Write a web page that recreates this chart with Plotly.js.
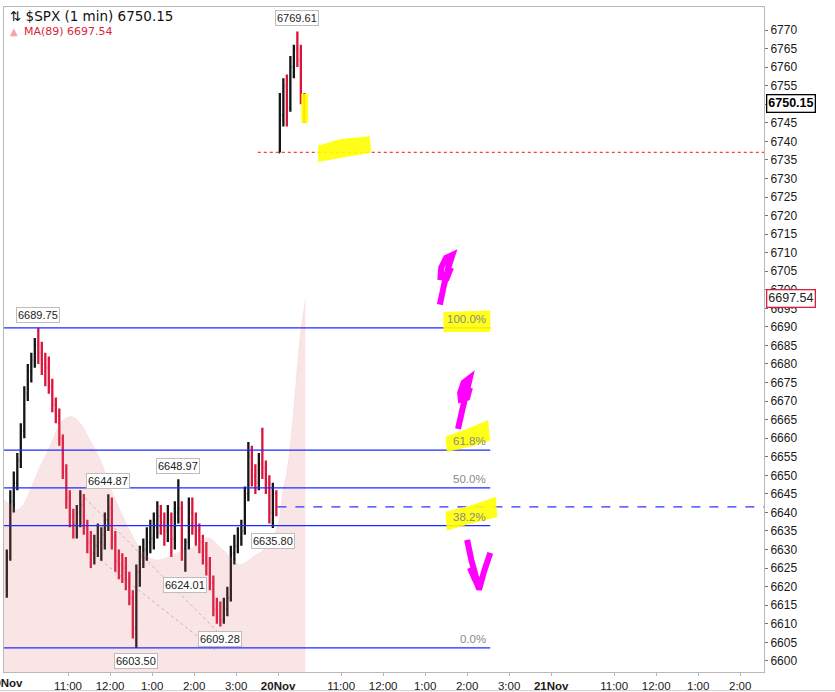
<!doctype html>
<html>
<head>
    <meta charset="utf-8">
    <title>$SPX (1 min)</title>
    <style>
        body {margin: 0; font: 10pt arial;}
    </style>
    <script src="https://cdn.plot.ly/plotly-3.0.1.min.js"></script>
    <script>
        // ====== DATA ==================================================
        // minutes since 19Nov 09:30, one session = 390 min, bars read as 5 min blocks
        const tickVals = [0, 90, 150, 210, 270, 330, 390, 480, 540, 600, 660, 720, 780, 870, 930, 990, 1050];
        const tickText = ['<b>19Nov</b>', '11:00', '12:00', '1:00', '2:00', '3:00',
                          '<b>20Nov</b>', '11:00', '12:00', '1:00', '2:00', '3:00',
                          '<b>21Nov</b>', '11:00', '12:00', '1:00', '2:00'];

        const day1Open = [6622,6628,6643,6648,6654,6662,6672,6678,6681,6685,
                          6683,6680,6679,6674,6669,6666,6660,6651,6644,6639,
                          6637,6640,6642,6636,6632,6629,6631,6632,6634,6638,
                          6641,6633,6627,6626,6625,6622,6617,6609,6624,6628,
                          6630,6632,6633,6636,6639,6637,6635,6638,6633,6640,
                          6641,6630,6632,6640,6636,6635,6632,6630,6626,6621,
                          6614,6612,6611,6614,6617,6629,6631,6633,6635,6645,
                          6655,6650,6648,6653,6652,6648,6640,6645];
        const day1High = [6630,6646,6651,6656,6664,6674,6680,6683,6687,6689.75,
                          6686,6683,6682,6676,6671,6668,6661,6653,6646,6641,
                          6642,6646,6645,6638,6635,6634,6637,6636,6640,6644.87,
                          6644,6635,6630,6629,6628,6624,6619,6626,6631,6633,
                          6636,6638,6640,6643,6642,6640,6642,6640,6643,6648.97,
                          6643,6633,6644,6644,6640,6637,6634,6632,6628,6623,
                          6617,6616,6617,6620,6631,6634,6636,6638,6647,6659,
                          6658,6653,6656,6662.8,6654,6650,6648,6646];
        const day1Low  = [6617,6627,6640,6646,6652,6660,6670,6675,6679,6680,
                          6677,6674,6672,6667,6664,6658,6649,6641,6636,6633,
                          6633,6636,6634,6629,6625,6626,6628,6627,6630,6635,
                          6630,6624,6622,6621,6619,6615,6606,6603.5,6620,6625,
                          6627,6629,6630,6633,6634,6631,6632,6628,6630,6637,
                          6627,6624.01,6630,6634,6631,6629,6626,6623,6619,6612,
                          6610,6609.28,6610,6612,6616,6626,6629,6631,6634,6643,
                          6647,6645,6646,6649,6645,6637,6635.8,6639];
        const day1Close = [6628,6643,6648,6654,6662,6672,6678,6681,6685,6683,
                           6680,6679,6674,6669,6666,6660,6651,6644,6639,6637,
                           6640,6642,6636,6632,6629,6631,6632,6634,6638,6641,
                           6633,6627,6626,6625,6622,6617,6609,6624,6628,6630,
                           6632,6633,6636,6639,6637,6635,6638,6633,6640,6641,
                           6630,6632,6640,6636,6635,6632,6630,6626,6621,6614,
                           6612,6611,6614,6617,6629,6631,6633,6635,6645,6655,
                           6650,6648,6653,6652,6648,6640,6645,6641.5];

        const day2Open  = [6737, 6747, 6755, 6749, 6760, 6765, 6762, 6752];
        const day2High  = [6753, 6757, 6758, 6763, 6766, 6769.61, 6766, 6753];
        const day2Low   = [6737, 6744, 6744, 6748, 6757, 6760, 6750, 6745];
        const day2Close = [6747, 6755, 6749, 6760, 6765, 6762, 6752, 6750.15];

        // MA(89)
        const maMinute = [-2, 7, 17, 26, 36, 50, 64, 74, 83, 96, 107, 121, 136, 150, 164, 183,
                          197, 217, 246, 269, 289, 307, 326, 336, 354, 374, 389, 397, 403, 411, 421, 429];
        const maValue  = [6643.4, 6642.1, 6640.7, 6642.1, 6646.1, 6652.3, 6657.7, 6662.3, 6664.9,
                          6665.8, 6664.1, 6659.6, 6654.2, 6646.9, 6640.7, 6633.4, 6629.1, 6627.2,
                          6629.1, 6630.7, 6633.2, 6630.7, 6627.2, 6625.9, 6628.0, 6630.7, 6636.1,
                          6646.1, 6651.5, 6664.9, 6686.5, 6697.54];

        // labelled swing points: day, bar index, which end
        const pivotDay  = [1, 1, 1, 1, 1, 1, 1, 2];
        const pivotBar  = [9, 29, 37, 49, 51, 61, 76, 5];
        const pivotKind = ['high', 'high', 'low', 'high', 'low', 'low', 'low', 'high'];

        const fibRatios = [1, 0.618, 0.5, 0.382, 0];
        const fibLabels = ['100.0%', '61.8%', '50.0%', '38.2%', '0.0%'];

        // faint dotted trend lines [minute, price]
        const trendLines = [
            [[114, 6643.9], [304, 6607.8]],
            [[136, 6627.2], [300, 6602.9]],
        ];

        // yellow marker highlights [minute, price]
        const highlights = [
            [[626, 6694.0], [693, 6694.4], [693, 6688.6], [626, 6688.6]],
            [[629, 6660.4], [664, 6662.8], [690, 6664.9], [693, 6659.3], [664, 6657.7], [631, 6656.3]],
            [[629, 6640.2], [664, 6641.8], [701, 6644.2], [703, 6638.8], [664, 6636.9], [631, 6635.1]],
            [[447, 6738.8], [479, 6740.6], [521, 6741.4], [523, 6736.9], [479, 6735.5], [447, 6734.4]],
            [[423, 6752.8], [433, 6752.8], [433, 6745.0], [423, 6745.0]],
        ];

        // hand drawn magenta strokes [minute, price]
        const strokes = [
            [[621, 6696.0], [627, 6701.3], [633, 6705.9], [639, 6709.4], [630, 6708.6], [623, 6706.0], [622, 6703.4], [631, 6703.2], [637, 6706.0]],
            [[647, 6662.5], [653, 6667.6], [659, 6672.2], [664, 6676.3], [655, 6675.0], [650, 6672.2], [651, 6670.4], [660, 6670.9], [664, 6673.6]],
            [[660, 6632.6], [666, 6627.2], [673, 6622.4], [677, 6619.2], [684, 6624.0], [693, 6629.1]],
            [[664, 6625.1], [671, 6622.0], [677, 6619.7]],
        ];

        function drawChart() {
            // ====== BARS ==================================================
            let x1 = day1Open.map((v, i) => 5 * i + 2.5);
            let x2 = day2Open.map((v, i) => 390 + 5 * i + 2.5);

            let barStyle = {
                type: 'ohlc',
                increasing: {line: {color: '#151515', width: 2.3}},
                decreasing: {line: {color: '#dc143c', width: 2.3}},
                tickwidth: 0.35,
                hoverinfo: 'none',
            };

            let traces = [];
            traces.push({
                x: maMinute,
                y: maValue,
                type: 'scatter',
                mode: 'lines',
                fill: 'tozeroy',
                fillcolor: 'rgba(220,110,110,0.18)',
                line: {color: 'rgba(225,160,160,0.15)', width: 1, shape: 'spline'},
                hoverinfo: 'none',
            });
            traces.push(Object.assign({x: x1, open: day1Open, high: day1High, low: day1Low, close: day1Close}, barStyle));
            traces.push(Object.assign({x: x2, open: day2Open, high: day2High, low: day2Low, close: day2Close}, barStyle));

            // ====== LEVELS ==================================================
            let hi = Math.max(...day1High);
            let lo = Math.min(...day1Low);
            let shapes = [];
            let annotations = [];

            trendLines.forEach(l => shapes.push({
                type: 'line', xref: 'x', yref: 'y', layer: 'below',
                x0: l[0][0], y0: l[0][1], x1: l[1][0], y1: l[1][1],
                line: {color: 'rgba(170,170,170,0.7)', width: 1, dash: 'dot'},
            }));

            fibRatios.forEach((r, k) => {
                let level = lo + r * (hi - lo);
                shapes.push({
                    type: 'line', xref: 'x', yref: 'y',
                    x0: -2, x1: 693, y0: level, y1: level,
                    line: {color: '#1f2bff', width: 1.3},
                });
                annotations.push({
                    x: 690, y: level, xref: 'x', yref: 'y',
                    xanchor: 'right', yanchor: 'bottom', yshift: 1,
                    text: fibLabels[k], showarrow: false,
                    font: {family: 'Liberation Sans', size: 11.5, color: '#8a8a8a'},
                });
            });

            // last close of 19Nov, open of 20Nov
            shapes.push({
                type: 'line', xref: 'x', yref: 'y', x0: 389, x1: 1084,
                y0: day1Close[day1Close.length - 1], y1: day1Close[day1Close.length - 1],
                line: {color: '#2a35ff', width: 1.2, dash: 'dash'},
            });
            shapes.push({
                type: 'line', xref: 'x', yref: 'y', x0: 361, x1: 1084,
                y0: day2Open[0], y1: day2Open[0],
                line: {color: '#ff3b3b', width: 1.3, dash: 'dot'},
            });

            highlights.forEach(p => shapes.push({
                type: 'path', xref: 'x', yref: 'y', opacity: 0.9,
                path: 'M' + p.map(q => q[0] + ',' + q[1]).join('L') + 'Z',
                fillcolor: '#ffff00', line: {width: 0},
            }));

            strokes.forEach(p => shapes.push({
                type: 'path', xref: 'x', yref: 'y',
                path: 'M' + p.map(q => q[0] + ',' + q[1]).join('L'),
                line: {color: '#ff00ff', width: 6},
            }));

            // bottom frame under the time labels
            shapes.push({
                type: 'line', xref: 'paper', yref: 'paper', x0: -0.01, x1: 1.1, y0: -0.028, y1: -0.028,
                line: {color: '#cfcfcf', width: 1},
            });

            // ====== LABELS ==================================================
            pivotBar.forEach((b, k) => {
                let isDay1 = pivotDay[k] === 1;
                let px = isDay1 ? x1[b] : x2[b];
                let price = pivotKind[k] === 'high'
                    ? (isDay1 ? day1High[b] : day2High[b])
                    : (isDay1 ? day1Low[b] : day2Low[b]);
                let up = pivotKind[k] === 'high';
                annotations.push({
                    x: px, y: price, xref: 'x', yref: 'y',
                    yanchor: up ? 'bottom' : 'top', yshift: up ? 5 : -5,
                    text: price.toFixed(2), showarrow: false,
                    font: {family: 'Liberation Sans', size: 11, color: '#222'},
                    bgcolor: '#ffffff', bordercolor: '#bdbdbd', borderwidth: 1, borderpad: 1,
                });
            });

            // first day label sits on the plot edge, plotly drops it as a tick label
            annotations.push({
                x: tickVals[0], y: -0.0165, xref: 'x', yref: 'paper', yanchor: 'middle',
                text: tickText[0], showarrow: false,
                font: {family: 'Liberation Sans', size: 11.5, color: '#1a1a1a'},
            });

            let last = day2Close[day2Close.length - 1];
            let lastMa = maValue[maValue.length - 1];

            annotations.push({
                x: 0.0053, y: 0.9865, xref: 'paper', yref: 'paper', xanchor: 'left', yanchor: 'middle',
                text: '⇅ $SPX (1 min) ' + last.toFixed(2), showarrow: false,
                font: {family: 'DejaVu Sans', size: 13.5, color: '#111'},
            });
            annotations.push({
                x: 0.0053, y: 0.9635, xref: 'paper', yref: 'paper', xanchor: 'left', yanchor: 'middle',
                text: '▲', showarrow: false,
                font: {family: 'DejaVu Sans', size: 10, color: '#f2a3ad'},
            });
            annotations.push({
                x: 0.0237, y: 0.9635, xref: 'paper', yref: 'paper', xanchor: 'left', yanchor: 'middle',
                text: 'MA(89) ' + lastMa.toFixed(2), showarrow: false,
                font: {family: 'DejaVu Sans', size: 11, color: '#d81f3c'},
            });

            annotations.push({
                x: 1, y: last, xref: 'paper', yref: 'y', xanchor: 'left', xshift: 2,
                text: '<b>' + last.toFixed(2) + '</b>', showarrow: false,
                font: {family: 'Liberation Sans', size: 12.5, color: '#000'},
                bgcolor: '#ffffff', bordercolor: '#000000', borderwidth: 1.3, borderpad: 1,
            });
            annotations.push({
                x: 1, y: lastMa, xref: 'paper', yref: 'y', xanchor: 'left', xshift: 2,
                text: lastMa.toFixed(2), showarrow: false,
                font: {family: 'Liberation Sans', size: 12.5, color: '#222'},
                bgcolor: '#ffffff', bordercolor: '#d81f3c', borderwidth: 1.3, borderpad: 1,
            });

            // ====== SETTINGS ==================================================
            let yTicks = [];
            for (let v = 6600; v <= 6770; v += 5) {
                yTicks.push(v);
            }
            // the last price tag hides the 6750 label
            let yTickText = yTicks.map(v => v === 6750 ? '' : String(v));

            let layout = {
                width: 835,
                height: 692,
                margin: {l: 4, r: 71, t: 7, b: 20},
                paper_bgcolor: '#ffffff',
                plot_bgcolor: '#ffffff',
                showlegend: false,
                xaxis: {
                    range: [-1.5, 1084],
                    tickmode: 'array',
                    tickvals: tickVals.slice(1),
                    ticktext: tickText.slice(1),
                    tickfont: {family: 'Liberation Sans', size: 11.5, color: '#1a1a1a'},
                    showgrid: false,
                    zeroline: false,
                    showline: true,
                    mirror: true,
                    linecolor: '#b8b8b8',
                    ticks: 'outside',
                    ticklen: 3,
                    tickcolor: '#b8b8b8',
                    rangeslider: {visible: false},
                    fixedrange: true,
                },
                yaxis: {
                    side: 'right',
                    range: [6597, 6776.2],
                    tickmode: 'array',
                    tickvals: yTicks,
                    ticktext: yTickText,
                    tickfont: {family: 'Liberation Sans', size: 12, color: '#1a1a1a'},
                    showgrid: false,
                    zeroline: false,
                    showline: true,
                    mirror: true,
                    linecolor: '#b8b8b8',
                    ticks: 'outside',
                    ticklen: 3,
                    tickcolor: '#777',
                    fixedrange: true,
                },
                shapes: shapes,
                annotations: annotations,
            };

            let config = {
                displayModeBar: false,
                staticPlot: true,
            };

            Plotly.newPlot(document.getElementById('spx_chart'), traces, layout, config);
        }
    </script>
</head>
<body onload="drawChart();">

    <div id="spx_chart"></div>

</body>
</html>
